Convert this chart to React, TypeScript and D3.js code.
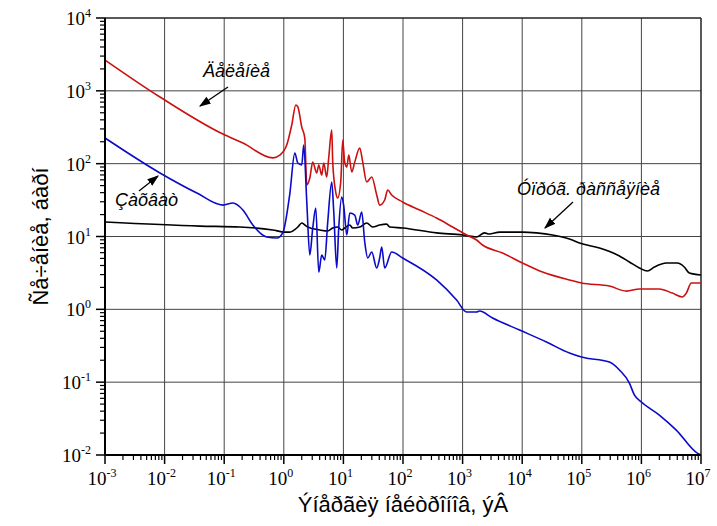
import React from "react";
import { scaleLog, line, curveMonotoneX } from "d3";

// energy (eV), cross-section (barn)
const fission: [number, number][] = [
  [1e-3, 2650], [0.00836, 823], [0.095, 255], [0.206, 192], [0.654, 120], [0.857, 131],
  [1.12, 180], [1.36, 340], [1.59, 638], [1.72, 600], [2.0, 319], [2.25, 225], [2.43, 51],
  [2.73, 63.6], [3.06, 105], [3.57, 74.5], [3.86, 96], [4.33, 69.8], [4.68, 102], [5.25, 65.6],
  [5.67, 120], [6.37, 290], [6.62, 105], [7.43, 40.8], [8.03, 33.8], [9.02, 56], [9.75, 211],
  [10.5, 105], [11.4, 90], [12.3, 131], [13.8, 77], [15.5, 105], [18.8, 164], [21.1, 105],
  [24.6, 56], [29.9, 65.6], [36.2, 37.2], [40.6, 27], [49.3, 31.7], [55.3, 43.4], [64.6, 37.2],
  [98.6, 29.8], [190, 23.1], [366, 17.9], [679, 13.5], [1166, 10.5], [1715, 8.95], [2163, 7.64],
  [4680, 5.93], [1.01e4, 4.32], [2.19e4, 3.25], [6.2e4, 2.53], [9.86e4, 2.3], [2.9e5, 2.09],
  [5.6e5, 1.78], [9.25e5, 1.9], [2.0e6, 1.9], [3.3e6, 1.67], [4.86e6, 1.48], [5.67e6, 1.67],
  [6.89e6, 2.3], [1e7, 2.3],
];

const capture: [number, number][] = [
  [1e-3, 225], [0.00836, 74.5], [0.0348, 39.5], [0.095, 27], [0.14, 28.8], [0.206, 23.1],
  [0.302, 14.4], [0.519, 9.85], [0.764, 9.53], [0.96, 11.2], [1.26, 38.3], [1.53, 140],
  [1.72, 102], [2.0, 96], [2.16, 180], [2.43, 29.8], [2.73, 5.57], [3.06, 13.1], [3.44, 24.6],
  [3.86, 3.25], [4.33, 5.57], [4.86, 4.75], [5.46, 15.8], [6.37, 56], [6.89, 21.7], [7.73, 3.69],
  [8.35, 13.1], [9.38, 34.8], [10.1, 27], [11.4, 10.5], [12.8, 21], [15.5, 19.7], [17.4, 14.4],
  [20.3, 21.7], [22.8, 8.4], [25.6, 5.07], [29.9, 6.12], [36.2, 3.69], [40.6, 5.07], [43.9, 7.18],
  [49.3, 3.69], [64.6, 6.12], [98.6, 5.07], [366, 2.53], [793, 1.34], [1166, 0.919], [1715, 0.919],
  [1923, 0.948], [3180, 0.76], [9020, 0.52], [2.55e4, 0.356], [6.2e4, 0.251], [9.86e4, 0.221],
  [2.9e5, 0.189], [4.28e5, 0.147], [6.29e5, 0.0973], [7.62e5, 0.0667], [1e6, 0.0534],
  [2e6, 0.0354], [3.85e6, 0.022], [8.67e6, 0.0106], [1e7, 0.01],
];

const elastic: [number, number][] = [
  [1e-3, 15.8], [0.039, 13.9], [0.183, 13.5], [0.654, 12.3], [1.04, 11.5], [1.26, 11.5],
  [1.72, 13.5], [2.0, 15.3], [2.25, 14.4], [2.52, 13.5], [4.01, 12.3], [5.46, 11.9], [6.62, 13.1],
  [8.03, 13.5], [9.38, 12.3], [10.5, 13.1], [12.8, 14.4], [14.3, 13.1], [18.8, 13.5], [24.6, 15.3],
  [31, 13.5], [40.6, 14.4], [53.2, 14.8], [59.7, 13.5], [98.6, 13.1], [366, 11.2], [1000, 10.5],
  [1715, 9.84], [2333, 11.2], [2800, 10.8], [4170, 11.5], [6890, 11.5], [1.01e4, 11.5],
  [1.74e4, 11.2], [3.22e4, 10.5], [6.2e4, 9.25], [9.14e4, 8.14], [1.98e5, 6.95], [3.96e5, 5.57],
  [6.29e5, 4.47], [9.25e5, 3.7], [1.26e6, 3.36], [1.65e6, 3.81], [2.62e6, 4.32], [4.0e6, 4.32],
  [5.24e6, 3.81], [6.37e6, 3.15], [1e7, 2.96],
];

const xDecades = [-3, -2, -1, 0, 1, 2, 3, 4, 5, 6, 7];
const yDecades = [-2, -1, 0, 1, 2, 3, 4];

const yTitle = "Ñå÷åíèå, áàðí";
const xTitle = "Ýíåðãèÿ íåéòðîíîâ, ýÂ";
const notes = ["Äåëåíèå", "Çàõâàò", "Óïðóã. ðàññåÿíèå"];

const W = 717;
const H = 526;
const m = { left: 105, right: 16, top: 18, bottom: 71 };

export default function App() {
  const x = scaleLog().domain([1e-3, 1e7]).range([m.left, W - m.right]);
  const y = scaleLog().domain([1e-2, 1e4]).range([H - m.bottom, m.top]);
  const gen = line<[number, number]>()
    .x((d) => x(d[0]))
    .y((d) => y(d[1]))
    .curve(curveMonotoneX);

  const x0 = x.range()[0], x1 = x.range()[1];
  const y0 = y.range()[0], y1 = y.range()[1];

  const minorX: number[] = [];
  xDecades.slice(0, -1).forEach((p) => {
    for (let k = 2; k <= 9; k++) minorX.push(k * Math.pow(10, p));
  });
  const minorY: number[] = [];
  yDecades.slice(0, -1).forEach((p) => {
    for (let k = 2; k <= 9; k++) minorY.push(k * Math.pow(10, p));
  });

  const tickFont = "'Liberation Serif', 'Times New Roman', serif";
  const sans = "'Liberation Sans', Arial, sans-serif";

  return (
    <svg width={W} height={H} style={{ position: "absolute", left: 0, top: 0, background: "#fff" }}>
      <defs>
        <marker id="arr" viewBox="0 0 10 10" refX="9" refY="5" markerWidth="9" markerHeight="9" orient="auto">
          <path d="M0,1.5 L10,5 L0,8.5 Z" fill="#000" />
        </marker>
      </defs>

      {/* grid */}
      {xDecades.slice(1, -1).map((p) => (
        <line key={"gx" + p} x1={x(Math.pow(10, p))} x2={x(Math.pow(10, p))} y1={y0} y2={y1} stroke="#444" strokeWidth={1} />
      ))}
      {yDecades.slice(1, -1).map((p) => (
        <line key={"gy" + p} x1={x0} x2={x1} y1={y(Math.pow(10, p))} y2={y(Math.pow(10, p))} stroke="#444" strokeWidth={1} />
      ))}
      <line x1={x0} x2={x1} y1={y1} y2={y1} stroke="#222" strokeWidth={1.5} />
      <line x1={x1} x2={x1} y1={y1} y2={y0} stroke="#222" strokeWidth={1.5} />

      {/* series */}
      <path d={gen(elastic) || ""} fill="none" stroke="#000" strokeWidth={1.6} />
      <path d={gen(fission) || ""} fill="none" stroke="#cc1010" strokeWidth={1.6} />
      <path d={gen(capture) || ""} fill="none" stroke="#0a0ac8" strokeWidth={1.6} />

      {/* axes */}
      <line x1={x0} x2={x1} y1={y0} y2={y0} stroke="#000" strokeWidth={2} />
      <line x1={x0} x2={x0} y1={y0} y2={y1} stroke="#000" strokeWidth={2} />
      {xDecades.map((p) => (
        <line key={"tx" + p} x1={x(Math.pow(10, p))} x2={x(Math.pow(10, p))} y1={y0} y2={y0 + 9} stroke="#000" strokeWidth={1.5} />
      ))}
      {minorX.map((v) => (
        <line key={"mx" + v} x1={x(v)} x2={x(v)} y1={y0} y2={y0 + 5} stroke="#000" strokeWidth={1.2} />
      ))}
      {yDecades.map((p) => (
        <line key={"ty" + p} x1={x0 - 9} x2={x0} y1={y(Math.pow(10, p))} y2={y(Math.pow(10, p))} stroke="#000" strokeWidth={1.5} />
      ))}
      {minorY.map((v) => (
        <line key={"my" + v} x1={x0 - 5} x2={x0} y1={y(v)} y2={y(v)} stroke="#000" strokeWidth={1.2} />
      ))}

      {/* tick labels */}
      {xDecades.map((p) => (
        <text key={"lx" + p} x={x(Math.pow(10, p)) - 3} y={y0 + 30} textAnchor="middle" fontFamily={tickFont} fontSize={19} fill="#000">
          10<tspan dy={-8} fontSize={12}>{p}</tspan>
        </text>
      ))}
      {yDecades.map((p) => (
        <text key={"ly" + p} x={x0 - 14} y={y(Math.pow(10, p)) + 7} textAnchor="end" fontFamily={tickFont} fontSize={19} fill="#000">
          10<tspan dy={-8} fontSize={12}>{p}</tspan>
        </text>
      ))}

      {/* titles */}
      <text x={(x0 + x1) / 2} y={512} textAnchor="middle" fontFamily={sans} fontSize={22} fill="#000">{xTitle}</text>
      <text transform={`translate(48,${(y0 + y1) / 2}) rotate(-90)`} textAnchor="middle" fontFamily={sans} fontSize={22} fill="#000">{yTitle}</text>

      {/* annotations */}
      <text x={203} y={77} fontFamily={sans} fontStyle="italic" fontSize={18} fill="#000">{notes[0]}</text>
      <line x1={228} y1={87} x2={200} y2={106} stroke="#000" strokeWidth={1.3} markerEnd="url(#arr)" />
      <text x={115} y={206} fontFamily={sans} fontStyle="italic" fontSize={18} fill="#000">{notes[1]}</text>
      <line x1={139} y1={191} x2={158} y2={176} stroke="#000" strokeWidth={1.3} markerEnd="url(#arr)" />
      <text x={517} y={195} fontFamily={sans} fontStyle="italic" fontSize={18} fill="#000">{notes[2]}</text>
      <line x1={573} y1={202} x2={545} y2={228} stroke="#000" strokeWidth={1.3} markerEnd="url(#arr)" />
    </svg>
  );
}
